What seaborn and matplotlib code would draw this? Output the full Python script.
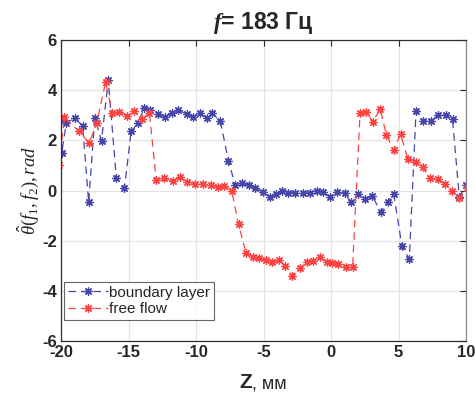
import matplotlib
matplotlib.use("Agg")
import matplotlib.pyplot as plt
import seaborn as sns
import pandas as pd

# ---- data ----
bl_z = [-20.0, -19.95, -19.6, -19.0, -18.4, -17.95, -17.5, -17.0, -16.5, -15.9,
        -15.3, -14.8, -14.3, -13.85, -13.4, -12.85, -12.3, -11.8, -11.3, -10.7,
        -10.2, -9.7, -9.2, -8.8, -8.2, -7.6, -7.1, -6.6, -6.1, -5.6,
        -5.05, -4.55, -4.05, -3.6, -3.15, -2.65, -2.1, -1.55, -1.05, -0.6,
        -0.05, 0.45, 1.0, 1.5, 2.0, 2.55, 3.05, 3.7, 4.2, 4.65,
        5.25, 5.8, 6.3, 6.8, 7.4, 7.95, 8.5, 9.0, 9.5, 10.0]
bl_theta = [2.81, 1.49, 2.7, 2.88, 2.58, -0.47, 2.88, 1.98, 4.4, 0.49,
            0.11, 2.37, 2.68, 3.27, 3.21, 3.04, 2.94, 3.07, 3.21, 3.05,
            2.94, 3.07, 2.88, 3.07, 2.78, 1.19, 0.22, 0.29, 0.22, 0.1,
            -0.07, -0.25, -0.15, -0.02, -0.09, -0.09, -0.11, -0.09, 0.0, -0.07,
            -0.25, -0.07, -0.11, -0.47, -0.15, -0.35, -0.21, -0.87, -0.47, -0.14,
            -2.21, -2.73, 3.17, 2.77, 2.77, 3.01, 3.01, 2.84, -0.25, 0.22]

ff_z = [-20.15, -19.75, -18.7, -17.9, -17.35, -16.7, -16.2, -15.7, -15.1, -14.6,
        -14.0, -13.45, -12.95, -12.35, -11.7, -11.2, -10.7, -10.05, -9.5, -8.9,
        -8.4, -7.9, -7.35, -6.85, -6.3, -5.8, -5.35, -4.85, -4.35, -3.85,
        -3.4, -2.9, -2.3, -1.8, -1.35, -0.8, -0.3, 0.1, 0.5, 1.1,
        1.6, 2.15, 2.6, 3.1, 3.65, 4.1, 4.65, 5.15, 5.7, 6.3,
        6.8, 7.3, 7.9, 8.45, 8.95, 9.5, 10.05]
ff_theta = [1.0, 2.92, 2.37, 1.9, 2.7, 4.31, 3.1, 3.12, 2.98, 3.17,
            2.84, 3.1, 0.42, 0.49, 0.38, 0.53, 0.35, 0.26, 0.25, 0.22,
            0.15, 0.19, -0.01, -1.35, -2.48, -2.64, -2.7, -2.77, -2.87, -2.77,
            -3.0, -3.39, -3.1, -2.87, -2.81, -2.66, -2.84, -2.9, -2.93, -3.06,
            -3.06, 3.07, 3.14, 2.74, 3.25, 2.21, 1.61, 2.25, 1.25, 1.15,
            0.92, 0.49, 0.45, 0.25, -0.02, -0.31, 0.11]

series_names = ["boundary layer", "free flow"]
x_ticks = [-20, -15, -10, -5, 0, 5, 10]
y_ticks = [-6, -4, -2, 0, 2, 4, 6]

# ---- style ----
sns.set_style("white")
plt.rcParams["font.family"] = ["Liberation Sans", "DejaVu Sans"]
plt.rcParams["mathtext.fontset"] = "custom"
plt.rcParams["mathtext.rm"] = "Liberation Serif"
plt.rcParams["mathtext.it"] = "Liberation Serif:italic"
plt.rcParams["mathtext.bf"] = "Liberation Serif:bold"
plt.rcParams["mathtext.bfit"] = "Liberation Serif:italic:bold"

blue = "#4646aa"
red = "#ff4242"

fig = plt.figure(figsize=(4.75, 3.95), dpi=100)
ax = fig.add_axes([61 / 475, (395 - 341) / 395, 405 / 475, 301 / 395])

df_bl = pd.DataFrame({"z": bl_z, "theta": bl_theta})
df_ff = pd.DataFrame({"z": ff_z, "theta": ff_theta})

common = dict(estimator=None, sort=False, linestyle=(0, (6, 4)), linewidth=0.9,
              marker=(8, 2, 0), markersize=6, markeredgewidth=0.9)
sns.lineplot(data=df_bl, x="z", y="theta", ax=ax, color=blue,
             markeredgecolor=blue, label=series_names[0], **common)
sns.lineplot(data=df_ff, x="z", y="theta", ax=ax, color=red,
             markeredgecolor=red, label=series_names[1], **common)

ax.set_xlim(-20, 10)
ax.set_ylim(-6, 6)
ax.set_xticks(x_ticks)
ax.set_yticks(y_ticks)
ax.set_xticklabels([str(t) for t in x_ticks], fontsize=12, fontweight="bold")
ax.set_yticklabels([str(t) for t in y_ticks], fontsize=12, fontweight="bold")
ax.grid(True, color="#e3e3e3", linewidth=0.9)
ax.set_axisbelow(True)
ax.tick_params(direction="in", length=4, width=0.8, top=True, right=True,
               colors="#262626", pad=3)
for s in ax.spines.values():
    s.set_visible(True)
    s.set_color("#303030")
    s.set_linewidth(0.9)
ax.spines["right"].set_color("#8a8a8a")

ax.set_xlabel("")
ax.set_ylabel(r"$\hat{\theta}(f_1, f_2), rad$", fontsize=13.5, labelpad=1)

# x label: "Z, мм"
fig.text(252 / 475, 1 - 383 / 395, "Z", fontsize=15, fontweight="bold",
         ha="right", va="center")
fig.text(252 / 475, 1 - 384 / 395, ", мм", fontsize=13,
         ha="left", va="center")

# title
ax.set_title(r"$\mathbfit{f}$= 183 Гц", fontsize=16.5, fontweight="bold", pad=8)

leg = ax.legend(loc="lower left", bbox_to_anchor=(0.0, 0.06), fontsize=11,
                frameon=True, fancybox=False, edgecolor="#404040",
                handlelength=2.6, handletextpad=0.1, borderpad=0.25,
                labelspacing=0.15, borderaxespad=0.2)
leg.get_frame().set_linewidth(0.8)

fig.savefig("out.png", dpi=100)
